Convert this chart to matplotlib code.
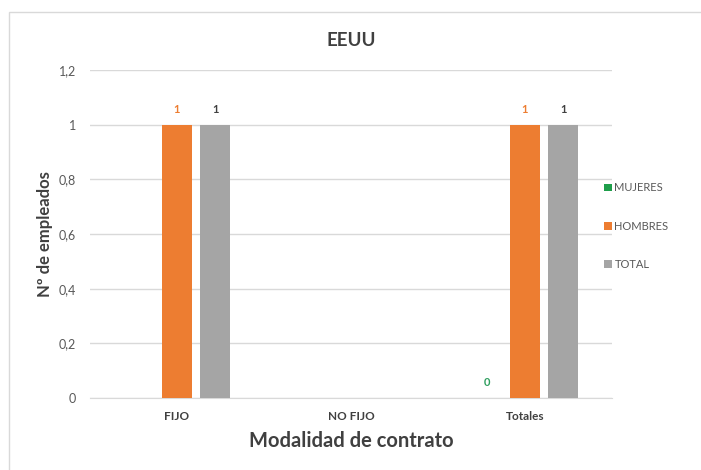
import numpy as np
import matplotlib
matplotlib.use("Agg")
import matplotlib.pyplot as plt
from matplotlib.patches import Rectangle, Patch

plt.rcParams['font.family'] = ['Lato', 'DejaVu Sans']

categories = ["FIJO", "NO FIJO", "Totales"]
series_names = ["MUJERES", "HOMBRES", "TOTAL"]
mujeres = [np.nan, np.nan, 0]
hombres = [1, np.nan, 1]
total = [1, np.nan, 1]
yticks = [0, 0.2, 0.4, 0.6, 0.8, 1, 1.2]
ytick_labels = ["0", "0,2", "0,4", "0,6", "0,8", "1", "1,2"]

colors = ["#1E9E4A", "#ED7D31", "#A5A5A5"]
label_colors = ["#2E9E5E", "#ED7D31", "#404040"]

W, H = 701, 470
fig = plt.figure(figsize=(W / 100, H / 100), dpi=100)
ax = fig.add_axes([90 / W, 1 - 398 / H, (612 - 90) / W, (398 - 70) / H])

# chart border
fig.patches.append(Rectangle((9 / W, -0.1), 1.1, 1 - 12 / H + 0.1, transform=fig.transFigure,
                             fill=False, edgecolor="#D9D9D9", linewidth=1.0))

x = np.arange(len(categories))
bw = 0.173
offs = [-0.22, 0.0, 0.22]
for vals, off, c, lc in zip([mujeres, hombres, total], offs, colors, label_colors):
    ax.bar(x + off, vals, width=bw, color=c, zorder=3)
    for xi, v in zip(x, vals):
        if not np.isnan(v):
            ax.annotate(f"{v:g}", (xi + off, v), xytext=(0, 7), textcoords="offset points",
                        ha="center", va="bottom", fontsize=8, fontweight="bold", color=lc)

ax.set_xlim(-0.5, 2.5)
ax.set_ylim(0, 1.2)
ax.set_yticks(yticks)
ax.set_yticklabels(ytick_labels)
ax.set_xticks(x)
ax.set_xticklabels(categories, fontweight="bold")
ax.grid(axis="y", color="#D9D9D9", linewidth=1.0, zorder=0)
for s in ["top", "right", "left"]:
    ax.spines[s].set_visible(False)
ax.spines["bottom"].set_color("#D9D9D9")
ax.tick_params(axis="both", length=0, colors="#595959", labelsize=9)
ax.tick_params(axis="x", labelsize=8.5, labelcolor="#404040", pad=9)
ax.tick_params(axis="y", pad=10)

ax.set_title("EEUU", fontsize=13.5, fontweight="bold", color="#404040", pad=17)
ax.set_ylabel("Nº de empleados", fontsize=12, fontweight="bold", color="#404040", labelpad=4)
ax.set_xlabel("Modalidad de contrato", fontsize=14.5, fontweight="bold", color="#404040", labelpad=7)

handles = [Patch(facecolor=c, edgecolor="none") for c in colors]
fig.legend(handles, series_names, loc="upper left", bbox_to_anchor=(600 / W, 1 - 178 / H),
           frameon=False, fontsize=8, labelcolor="#595959", handlelength=0.7, handleheight=0.7,
           handletextpad=0.2, labelspacing=2.45, borderaxespad=0)

fig.savefig("out.png", dpi=100)
